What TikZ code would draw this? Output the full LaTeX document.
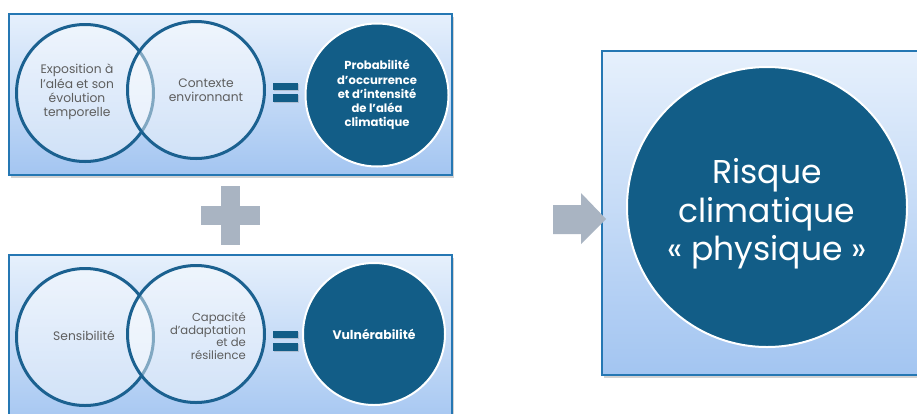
\documentclass[tikz,border=0pt]{standalone}
\usepackage{fontspec}
\setmainfont{Poppins}
\usetikzlibrary{shadows}

\definecolor{darkblue}{HTML}{125D87}
\definecolor{ringblue}{HTML}{1B6190}
\definecolor{frameblue}{HTML}{2577B3}
\definecolor{boxtop}{HTML}{E6F0FC}
\definecolor{boxbottom}{HTML}{A3C5F1}
\definecolor{symgray}{HTML}{A9B4C2}
\definecolor{txtgray}{HTML}{5E5E5E}

\tikzset{
  panel/.style={draw=frameblue, line width=1.2pt, top color=boxtop, bottom color=boxbottom,
    drop shadow={opacity=0.35, shadow xshift=2pt, shadow yshift=-2.5pt}},
  ring/.style={circle, draw=ringblue, line width=3pt, fill=white, fill opacity=0.45,
    inner sep=0pt, minimum size=137pt},
  ringtext/.style={text=txtgray, align=center, inner sep=0pt,
    font=\fontsize{12.3}{14.3}\selectfont},
  core/.style={circle, draw=white, line width=2pt, fill=darkblue, text=white,
    inner sep=0pt, align=center},
  bar/.style={fill=darkblue, drop shadow={opacity=0.3, shadow xshift=1pt, shadow yshift=-1pt}},
  symbol/.style={fill=symgray},
}

\begin{document}
\begin{tikzpicture}[x=1pt, y=-1pt]
  \clip (0,0) rectangle (917,413);
  \fill[white] (0,0) rectangle (917,413);

  % panels
  \path[panel] (9,14) rectangle (452,175);
  \path[panel] (9,255) rectangle (452,430);
  \path[panel] (602,51) rectangle (930,375);

  % upper row: hazard
  \node[ring] (expo) at (85,93) {};
  \node[ring] (ctx) at (196,90) {};
  \node[ringtext] (expoT) at (77,92) {Exposition à\\l’aléa et son\\évolution\\temporelle};
  \node[ringtext] (ctxT) at (206,90) {Contexte\\environnant};
  \path[bar] (273,83) rectangle (298,90);
  \path[bar] (273,94) rectangle (298,102);
  \node[core, minimum size=143pt, font=\bfseries\fontsize{11.6}{14.2}\selectfont] (proba) at (377,95)
    {Probabilité\\d’occurrence\\et d’intensité\\de l’aléa\\climatique};

  % plus sign
  \path[symbol] (221,186) rectangle (240,245);
  \path[symbol] (201,206) rectangle (260,225);

  % lower row: vulnerability
  \node[ring] (sens) at (85,337) {};
  \node[ring] (capa) at (196,334) {};
  \node[ringtext] (sensT) at (84,336) {Sensibilité};
  \node[ringtext, anchor=east, align=right, font=\fontsize{11.6}{12.6}\selectfont] (capaT) at (246,336)
    {Capacité\\d’adaptation\\et de\\résilience};
  \path[bar] (273,331) rectangle (298,338);
  \path[bar] (273,343) rectangle (298,351);
  \node[core, minimum size=142pt, font=\bfseries\fontsize{12.4}{14}\selectfont] (vuln) at (374,334)
    {Vulnérabilité};

  % arrow towards the result
  \path[symbol] (553,205) -- (581,205) -- (581,193) -- (606,219) -- (581,244) -- (581,234)
    -- (553,234) -- cycle;

  % result
  \node[core, minimum size=280pt] (risk) at (767,207) {};
  \node[text=white, align=center, inner sep=0pt, font=\fontsize{33}{38.5}\selectfont] (riskT)
    at (767,214) {Risque\\climatique\\« physique »};
\end{tikzpicture}
\end{document}
